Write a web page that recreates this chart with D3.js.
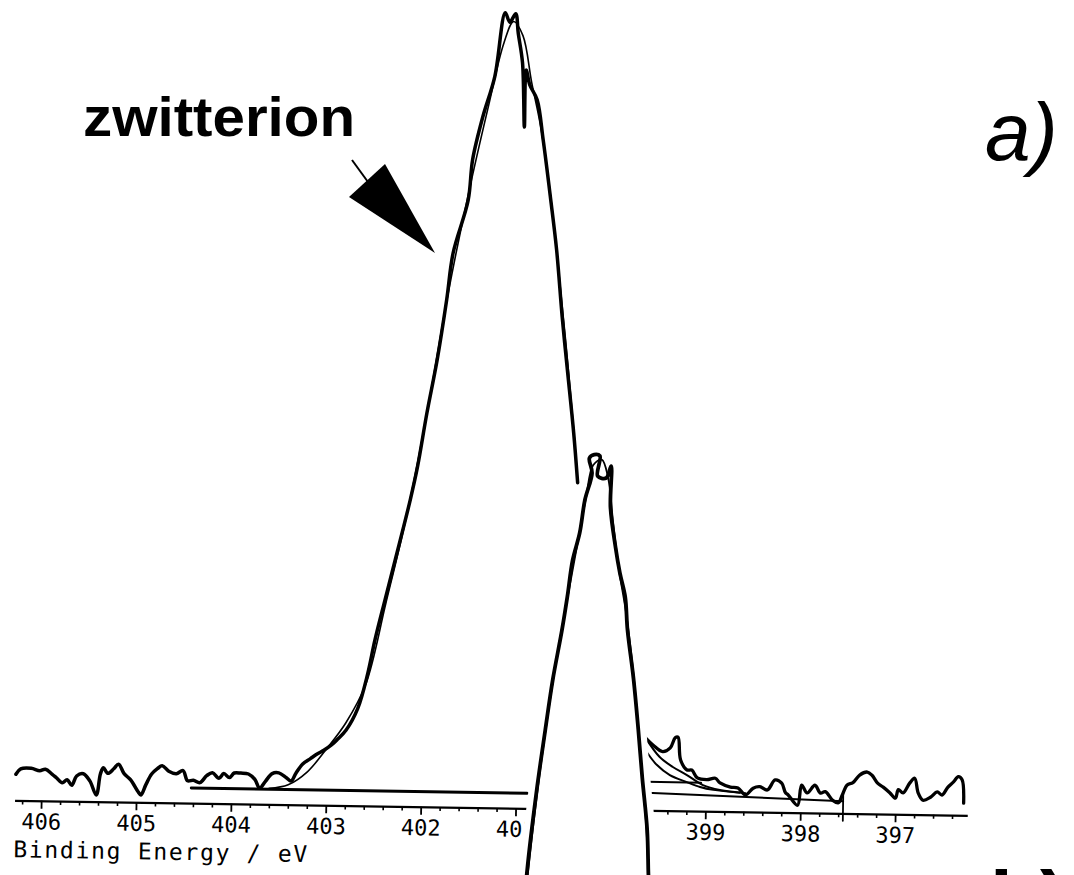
<!DOCTYPE html>
<html>
<head>
<meta charset="utf-8">
<script src="https://cdn.jsdelivr.net/npm/d3@7"></script>
<style>
  body { margin: 0; background: #fff; }
  svg { display: block; }
</style>
</head>
<body>
<div id="chart"></div>
<script>
// binding energy ticks (eV)
var majorTicks = [406, 405, 404, 403, 402, 401, 400, 399, 398, 397];

// upper spectrum (zwitterion), [eV, intensity], left part up to where panel b covers it
var peakA = [[406.27,1.3],[406.22,2.0],[406.11,2.1],[406.02,1.8],[405.96,2.0],[405.89,1.4],[405.84,0.9],
  [405.78,0.3],[405.73,0.7],[405.68,0.0],[405.63,1.2],[405.56,1.5],[405.49,0.6],[405.42,-1.2],[405.38,1.5],
  [405.35,2.3],[405.30,1.6],[405.24,2.2],[405.19,2.8],[405.13,1.6],[405.06,0.8],[404.98,-0.7],[404.95,-1.1],
  [404.90,0.2],[404.84,1.6],[404.78,2.3],[404.73,2.7],[404.66,2.0],[404.58,1.7],[404.51,2.1],[404.46,0.8],
  [404.40,0.9],[404.33,0.6],[404.26,1.5],[404.20,1.9],[404.13,1.2],[404.08,1.8],[404.02,1.3],[403.97,1.9],
  [403.90,1.9],[403.82,1.8],[403.75,1.1],[403.70,0.0],[403.64,0.9],[403.57,1.9],[403.50,2.0],[403.42,1.4],
  [403.37,1.0],[403.32,2.0],[403.25,3.2],[403.17,3.9],[403.10,4.5],[403.03,5.0],[402.95,5.7],[402.89,6.4],
  [402.80,7.6],[402.68,10.4],[402.58,14.9],[402.51,19.2],[402.41,24.4],[402.31,29.5],[402.16,37.3],
  [402.09,41.5],[402.00,48.4],[401.90,55.3],[401.81,63.0],[401.75,69.0],[401.60,75.8],[401.56,81.0],
  [401.46,86.5],[401.34,91.7],[401.24,99.9],[401.19,98.7],[401.13,99.8],[401.10,97.3],[401.05,93.5],
  [401.02,85.3],[401.01,92.6],[400.97,90.7],[400.89,88.8],[400.82,83.7],[400.73,76.0],[400.66,69.6],
  [400.59,61.0],[400.53,54.6],[400.45,46.2],[400.40,39.8]];

// fitted envelope of the big peak
var fitA = [[403.6,0],[403.4,0.5],[403.2,2.2],[403.0,5.2],[402.8,8.6],[402.6,13.5],[402.4,24.0],[402.2,35.0],
  [402.0,48.3],[401.8,63.5],[401.6,76.5],[401.4,88.0],[401.25,96.0],[401.15,98.8],[401.05,97.0],[400.95,91.0],
  [400.85,85.5],[400.75,78.0],[400.65,68.5],[400.55,58.0],[400.45,46.5],[400.40,40.0]];

// right tail of the upper spectrum
var tailA = [[399.64,7.2],[399.56,6.3],[399.46,5.5],[399.38,6.0],[399.33,7.3],[399.30,7.4],[399.27,4.5],
  [399.20,3.2],[399.15,3.2],[399.09,2.2],[398.99,2.0],[398.90,2.2],[398.85,1.6],[398.74,1.1],[398.66,1.0],
  [398.58,0.1],[398.50,1.0],[398.43,1.2],[398.35,0.8],[398.27,2.1],[398.20,1.7],[398.16,0.5],[398.13,0.2],
  [398.03,-1.1],[397.99,1.5],[397.93,0.5],[397.85,1.5],[397.79,0.5],[397.74,0.7],[397.66,-0.4],[397.60,-0.7],
  [397.56,0.3],[397.51,1.6],[397.45,1.9],[397.38,2.9],[397.30,3.3],[397.25,2.9],[397.19,1.9],[397.13,1.4],
  [397.06,0.7],[397.00,0.0],[396.97,1.1],[396.92,0.7],[396.85,2.0],[396.80,2.6],[396.76,0.7],[396.71,-0.2],
  [396.63,0.2],[396.56,0.9],[396.51,0.5],[396.45,1.5],[396.39,2.2],[396.34,2.9],[396.30,2.5],[396.28,-0.5]];

var fitTail1 = [[399.64,7.2],[399.49,4.8],[399.35,3.55],[399.20,2.55],[399.03,1.3],[398.85,0.7],[398.58,0.35]];
var fitTail2 = [[399.62,5.3],[399.52,3.8],[399.38,2.5],[399.20,1.65],[399.06,1.05],[398.92,0.7],[398.64,0.4]];

// background lines
var bgLeft = [[404.42,-0.1],[400.88,-0.1]];
var bgRight = [[399.62,0.2],[397.55,-0.5]];
var bgRight2 = [[399.62,1.6],[399.05,1.6]];
var bgMarker = [[397.55,0.6],[397.55,-3.0]];

// spectrum b) peak that rises from below, [eV, intensity]
var peakB = [[400.88,27.0],[400.87,29.8],[400.78,43.8],[400.70,53.9],[400.63,62.3],[400.54,70.8],[400.49,76.3],
  [400.44,82.5],[400.37,87.1],[400.32,92.7],[400.25,97.2],[400.28,99.7],[400.23,100.3],[400.17,100.1],
  [400.19,96.7],[400.10,96.4],[400.05,98.4],[400.05,91.5],[399.99,84.8],[399.94,80.5],[399.88,76.5],
  [399.85,70.9],[399.78,62.9],[399.72,54.2],[399.67,46.1],[399.61,37.4],[399.59,30.1],[399.58,27.3]];
var fitB = [[400.87,28],[400.77,44],[400.62,63],[400.50,75],[400.40,84.5],[400.31,93],[400.24,98.5],
  [400.15,99.5],[400.08,96.5],[400.02,89],[399.95,81],[399.87,74],[399.78,63.5],[399.70,51],[399.62,38],[399.58,27]];

var W = 1074, H = 875;
var axisY = 808;

var svg = d3.select("#chart").append("svg")
    .attr("width", W)
    .attr("height", H);

svg.append("rect").attr("width", W).attr("height", H).attr("fill", "#fff");

var x = d3.scaleLinear().domain([406.28, 396.24]).range([14.5, 967.3]);
var y = d3.scaleLinear().domain([0, 100]).range([792, 12]);
var yB = d3.scaleLinear().domain([0, 100]).range([1050, 455]);

// the scanned plot sits slightly tilted
var g = svg.append("g").attr("transform", "rotate(0.9,500," + axisY + ")");

var mono = "'DejaVu Sans Mono', monospace";

// axis
var axis = g.append("g")
    .attr("transform", "translate(0," + axisY + ")")
    .call(d3.axisBottom(x)
        .tickValues(majorTicks)
        .tickSize(8)
        .tickSizeOuter(0)
        .tickPadding(5)
        .tickFormat(d3.format("d")))
    .attr("font-family", mono)
    .attr("font-size", 22);
axis.select(".domain").attr("stroke-width", 2.2);
axis.selectAll(".tick line").attr("stroke-width", 1.8);
axis.selectAll(".tick text").attr("fill", "#000");

var minorTicks = d3.range(4062, 3963, -2).map(function(d){ return d / 10; })
    .filter(function(d){ return Math.abs(d - Math.round(d)) > 0.01; });
var minor = g.append("g")
    .attr("transform", "translate(0," + axisY + ")")
    .call(d3.axisBottom(x).tickValues(minorTicks).tickSize(4).tickSizeOuter(0).tickFormat(""));
minor.select(".domain").remove();
minor.selectAll(".tick line").attr("stroke-width", 1.6);

g.append("text")
    .attr("x", 14)
    .attr("y", 865)
    .attr("font-family", mono)
    .attr("font-size", 23)
    .attr("textLength", 294)
    .attr("lengthAdjust", "spacing")
    .text("Binding Energy / eV");

var line = d3.line()
    .x(function(d){ return x(d[0]); })
    .y(function(d){ return y(d[1]); })
    .curve(d3.curveCatmullRom.alpha(0.5));

var lineB = d3.line()
    .x(function(d){ return x(d[0]); })
    .y(function(d){ return yB(d[1]); })
    .curve(d3.curveCatmullRom.alpha(0.5));

function draw(d, gen, w) {
    return g.append("path")
        .attr("d", gen(d))
        .attr("fill", "none")
        .attr("stroke", "#000")
        .attr("stroke-width", w)
        .attr("stroke-linejoin", "round")
        .attr("stroke-linecap", "round");
}

var straight = d3.line().x(function(d){ return x(d[0]); }).y(function(d){ return y(d[1]); });
draw(bgLeft, straight, 3);
draw(bgRight, straight, 2);
draw(bgRight2, straight, 2);
draw(bgMarker, straight, 1.8);

draw(peakA, line, 3.5);
draw(fitA, line, 1.6);
draw(tailA, line, 3.3);
draw(fitTail1, line, 2);
draw(fitTail2, line, 2);

// panel b) covers the upper plot inside its peak
g.append("path")
    .attr("d", lineB(peakB) + "Z")
    .attr("fill", "#fff")
    .attr("stroke", "#fff")
    .attr("stroke-width", 16)
    .attr("stroke-linejoin", "round");
draw(peakB, lineB, 3.8);
draw(fitB, lineB, 1.8);

// annotations
svg.append("text")
    .attr("x", 83)
    .attr("y", 136)
    .attr("font-family", "'Liberation Sans', Arial, sans-serif")
    .attr("font-weight", "bold")
    .attr("font-size", 56)
    .attr("textLength", 272)
    .attr("lengthAdjust", "spacingAndGlyphs")
    .text("zwitterion");

svg.append("line")
    .attr("x1", 352).attr("y1", 160)
    .attr("x2", 368).attr("y2", 182)
    .attr("stroke", "#000")
    .attr("stroke-width", 2);
svg.append("path")
    .attr("d", "M349,197L385,164L435,253Z")
    .attr("fill", "#000");

svg.append("text")
    .attr("x", 985)
    .attr("y", 160)
    .attr("font-family", "'Liberation Sans', Arial, sans-serif")
    .attr("font-size", 82)
    .attr("font-style", "italic")
    .text("a)");

// only the top of the b) label shows at the bottom edge
svg.append("text")
    .attr("x", 990)
    .attr("y", 928)
    .attr("font-family", "'Liberation Sans', Arial, sans-serif")
    .attr("font-size", 82)
    .attr("font-weight", "bold")
    .text("b)");
</script>
</body>
</html>
